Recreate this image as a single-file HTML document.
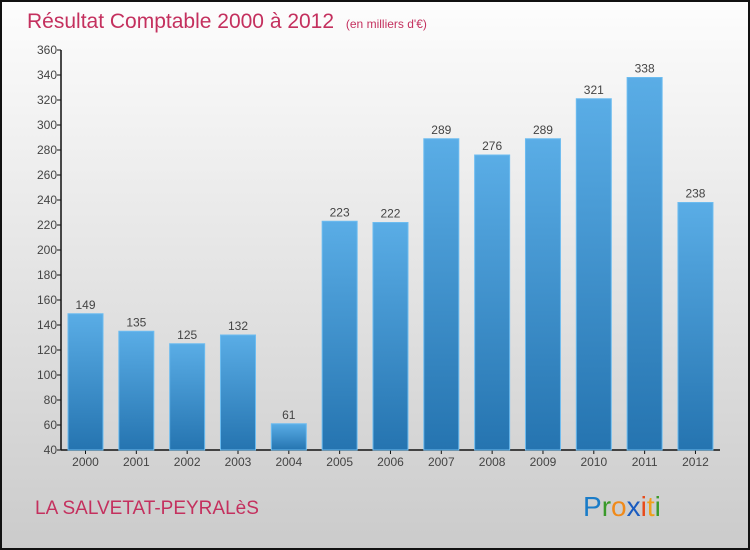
<!DOCTYPE html>
<html><head><meta charset="utf-8"><style>
body{margin:0;}
#c{width:750px;height:550px;position:relative;overflow:hidden;}
svg text{font-family:"Liberation Sans",sans-serif;}
</style></head><body>
<div id="c">
<svg id="s" width="750" height="550" xmlns="http://www.w3.org/2000/svg">
<defs>
<linearGradient id="bg" x1="0" y1="0" x2="0" y2="1"><stop offset="0" stop-color="#fdfdfd"/><stop offset="1" stop-color="#cbcbcb"/></linearGradient>
<linearGradient id="bar" x1="0" y1="0" x2="0" y2="1"><stop offset="0" stop-color="#5aade6"/><stop offset="1" stop-color="#2574b0"/></linearGradient>
</defs>
<rect x="1" y="1" width="748" height="548" fill="url(#bg)" stroke="#111" stroke-width="2"/>
<text x="27" y="28" font-size="21" fill="#c4305e">Résultat Comptable 2000 à 2012 <tspan font-size="12" dx="6">(en milliers d'€)</tspan></text>
<text x="35" y="514" font-size="19" fill="#c4305e">LA SALVETAT-PEYRALèS</text>
<g font-size="28" font-weight="bold">
<text x="583" y="516" font-weight="normal"><tspan fill="#1a7cc8">P</tspan><tspan fill="#3a9a2a">r</tspan><tspan fill="#f08a1a">o</tspan><tspan fill="#1a5cc0">x</tspan><tspan fill="#e84a1a">i</tspan><tspan fill="#f0a01a">t</tspan><tspan fill="#3a9a2a">i</tspan></text>
</g>
<g id="axes"></g>
<g id="bars"></g>
</svg>
</div>
<script>
const categories=["2000","2001","2002","2003","2004","2005","2006","2007","2008","2009","2010","2011","2012"];
const values=[149,135,125,132,61,223,222,289,276,289,321,338,238];
const yTicks=[40,60,80,100,120,140,160,180,200,220,240,260,280,300,320,340,360];
const NS="http://www.w3.org/2000/svg";
const y0=450,y1=50,vmin=40,vmax=360,xAxis=61,xEnd=720,x0=85.5,step=50.83,bw=35;
const y=v=>y0-(v-vmin)/(vmax-vmin)*(y0-y1);
const x=i=>x0+i*step;
function mk(t,a,p){const e=document.createElementNS(NS,t);for(const k in a)e.setAttribute(k,a[k]);p.appendChild(e);return e;}
const ax=document.getElementById('axes'),bs=document.getElementById('bars');
let l=mk('line',{x1:xAxis,y1:y1,x2:xAxis,y2:y0,stroke:'#111','stroke-width':1.5},ax);


l=mk('line',{x1:xAxis,y1:y0,x2:xEnd,y2:y0,stroke:'#111','stroke-width':1.5},ax);


yTicks.forEach(v=>{
 const tk=mk('line',{x1:xAxis-4,y1:y(v),x2:xAxis,y2:y(v),stroke:'#111'},ax);
 
 
 const t=mk('text',{x:xAxis-4,y:y(v)+4,'font-size':12,fill:'#444','text-anchor':'end'},ax);
 t.textContent=v;
 
 
});
categories.forEach((c,i)=>{
 const tk=mk('line',{x1:x(i),y1:y0,x2:x(i),y2:y0+4,stroke:'#111'},ax);
 
 
 const t=mk('text',{x:x(i),y:y0+16,'font-size':12,fill:'#444','text-anchor':'middle'},ax);
 t.textContent=c;
 
 
 const v=values[i];
 const r=mk('rect',{x:x(i)-bw/2,y:y(v),width:bw,height:y0-y(v),fill:'url(#bar)',stroke:'#6cbcf0','stroke-width':1},bs);
 
 
 const lb=mk('text',{x:x(i),y:y(v)-5,'font-size':12,fill:'#444','text-anchor':'middle'},bs);
 lb.textContent=v;
 
 
});
</script>
</body></html>
